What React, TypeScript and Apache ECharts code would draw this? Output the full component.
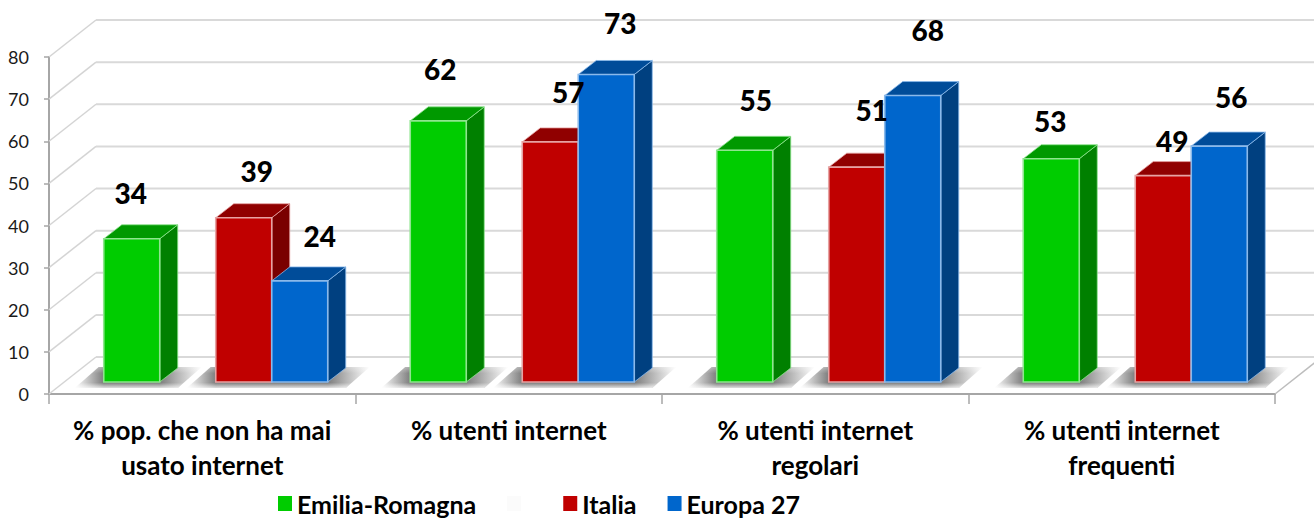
import React, { useEffect, useRef } from "react";
import * as echarts from "echarts";

const categories = [
  "% pop. che non ha mai\nusato internet",
  "% utenti internet",
  "% utenti internet\nregolari",
  "% utenti internet\nfrequenti",
];
const emiliaRomagna = [34, 62, 55, 53];
const italia = [39, 57, 51, 49];
const europa27 = [24, 73, 68, 56];
const yTicks = [0, 10, 20, 30, 40, 50, 60, 70, 80];

// layout only: label offsets relative to the top-front centre of each bar
const emiliaLabelOffset = [[-1, -46], [2, -52], [11, -50], [-1, -38]];
const italiaLabelOffset = [[13, -47], [18, -50], [15, -57], [9, -35]];
const europaLabelOffset = [[20, -45], [14, -51], [15, -66], [12, -49]];

const FONT = "Lato, Carlito, 'Open Sans', sans-serif";
const W = 1314, H = 518;
const WALL_DX = 47, WALL_DY = -37;
const BAR_DX = 13.5, BAR_DY = -12;
const BAR_DEPTH_X = 18, BAR_DEPTH_Y = -14;
const BAR_RATIO = 56 / 306.5;

function barFrame(api: any, slot: number) {
  const idx = api.value(0);
  const val = api.value(1);
  const top = api.coord([idx, val]);
  const base = api.coord([idx, 0]);
  const band = api.size([1, 0])[0];
  const w = band * BAR_RATIO;
  const x0 = top[0] + (slot - 2) * w + BAR_DX;
  return { x0, x1: x0 + w, yTop: top[1] + BAR_DY, yBase: base[1] + BAR_DY };
}

const bar3d = (slot: number, face: string, side: string, cap: string, edge: string) => (_p: any, api: any) => {
  const { x0, x1, yTop, yBase } = barFrame(api, slot);
  const dx = BAR_DEPTH_X, dy = BAR_DEPTH_Y;
  return {
    type: "group",
    children: [
      {
        type: "polygon",
        shape: { points: [[x1, yTop], [x1 + dx, yTop + dy], [x1 + dx, yBase + dy], [x1, yBase]] },
        style: { fill: side, stroke: edge, lineWidth: 0.8 },
      },
      {
        type: "polygon",
        shape: { points: [[x0, yTop], [x0 + dx, yTop + dy], [x1 + dx, yTop + dy], [x1, yTop]] },
        style: { fill: cap, stroke: edge, lineWidth: 0.8 },
      },
      {
        type: "rect",
        shape: { x: x0, y: yTop, width: x1 - x0, height: yBase - yTop },
        style: { fill: face, stroke: edge, lineWidth: 1.6 },
      },
    ],
  };
};

const shadow = (_p: any, api: any) => {
  const idx = api.value(0);
  const from = api.value(1);
  const to = api.value(2);
  const base = api.coord([idx, 0]);
  const w = api.size([1, 0])[0] * BAR_RATIO;
  const x0 = base[0] + (from - 2) * w + BAR_DX;
  const x1 = base[0] + (to - 2) * w + BAR_DX;
  const yBottom = base[1] - 6;
  const yTop = base[1] - 27;
  const stops = [
    { offset: 0, color: "rgba(125,125,125,0)" },
    { offset: 29 / (x1 - x0 + 71), color: "rgba(125,125,125,1)" },
    { offset: 1 - 42 / (x1 - x0 + 71), color: "rgba(125,125,125,1)" },
    { offset: 1, color: "rgba(125,125,125,0)" },
  ];
  return {
    type: "group",
    children: [
      {
        type: "polygon",
        shape: { points: [[x0 - 29, yBottom], [x0 - 5, yTop], [x1 + 42, yTop], [x1 + 18, yBottom]] },
        style: { fill: { type: "linear", x: 0, y: 0, x2: 1, y2: 0, colorStops: stops } },
      },
      {
        type: "polygon",
        shape: { points: [[x0 - 29, yBottom], [x0 - 5, yTop], [x1 + 42, yTop], [x1 + 18, yBottom]] },
        style: {
          fill: {
            type: "linear", x: 0, y: 0, x2: 0, y2: 1,
            colorStops: [
              { offset: 0, color: "rgba(255,255,255,0.35)" },
              { offset: 0.3, color: "rgba(255,255,255,0)" },
              { offset: 0.75, color: "rgba(255,255,255,0)" },
              { offset: 1, color: "rgba(255,255,255,0.75)" },
            ],
          },
        },
      },
    ],
  };
};

const walls = (p: any, api: any) => {
  const v = api.value(0);
  const rect = p.coordSys;
  const y = api.coord([0, v])[1];
  const x = rect.x;
  const children: any[] = [
    {
      type: "polyline",
      shape: { points: [[x, y], [x + WALL_DX, y + WALL_DY]] },
      style: { stroke: "#d4d4d4", lineWidth: 1.5, fill: "none" },
    },
    {
      type: "polyline",
      shape: { points: [[x + WALL_DX, y + WALL_DY], [W, y + WALL_DY]] },
      style: { stroke: "#d9d9d9", lineWidth: 2, fill: "none" },
    },
  ];
  if (v === 0) {
    const xr = rect.x + rect.width;
    children.push({
      type: "polyline",
      shape: { points: [[xr, y], [xr + WALL_DX, y + WALL_DY]] },
      style: { stroke: "#bdbdbd", lineWidth: 1.5, fill: "none" },
    });
  }
  return { type: "group", children };
};

const valueLabel = (slot: number, offsets: number[][]) => (_p: any, api: any) => {
  const idx = api.value(0);
  const { x0, x1, yTop } = barFrame(api, slot);
  const o = offsets[idx];
  return {
    type: "text",
    x: (x0 + x1) / 2 + o[0],
    y: yTop + o[1],
    style: {
      text: String(api.value(1)),
      fontFamily: FONT,
      fontSize: 28,
      fontWeight: 900,
      fill: "#000",
      align: "center",
      verticalAlign: "middle",
    },
  };
};

const pairs = (vals: number[]) => vals.map((v, i) => [i, v]);
const custom = (extra: any) => ({ type: "custom", coordinateSystem: "cartesian2d", clip: false, silent: true, ...extra });

export default function App() {
  const ref = useRef<HTMLDivElement>(null);
  useEffect(() => {
    document.body.style.margin = "0";
    const chart = echarts.init(ref.current!, null, { renderer: "svg" });
    const shadowData: number[][] = [];
    categories.forEach((_c, i) => {
      shadowData.push([i, 0, 1], [i, 2, 4]);
    });
    chart.setOption({
      animation: false,
      backgroundColor: "#fff",
      tooltip: { show: false },
      grid: { left: 49, right: W - 1275, top: 57, bottom: H - 394, containLabel: false },
      xAxis: {
        type: "category",
        data: categories,
        axisTick: { show: true, alignWithLabel: false, length: 10, lineStyle: { color: "#a6a6a6", width: 1.5 } },
        axisLine: { lineStyle: { color: "#a6a6a6", width: 2 } },
        axisLabel: {
          interval: 0,
          margin: 18,
          fontFamily: FONT,
          fontSize: 26,
          fontWeight: "bold",
          color: "#000",
          lineHeight: 35,
        },
      },
      yAxis: {
        type: "value",
        min: 0,
        max: 80,
        interval: 10,
        splitLine: { show: false },
        axisTick: { show: true, length: 5, lineStyle: { color: "#a6a6a6", width: 1.5 } },
        axisLine: { show: true, lineStyle: { color: "#a6a6a6", width: 2 } },
        axisLabel: { margin: 20, fontFamily: FONT, fontSize: 18, color: "#1a1a1a", padding: [3, 0, 0, 0] },
      },
      legend: {
        left: 278,
        top: 491,
        padding: 0,
        itemWidth: 14,
        itemHeight: 15,
        itemGap: 31,
        icon: "rect",
        selectedMode: false,
        data: ["Emilia-Romagna", "\u00a0", "Italia", "Europa 27"],
        textStyle: { fontFamily: FONT, fontSize: 25, fontWeight: "bold", color: "#000" },
      },
      series: [
        custom({ name: "walls", z: 1, data: yTicks.map((v) => [v]), encode: { y: 0 }, renderItem: walls }),
        custom({ name: "shadow", z: 2, data: shadowData, encode: { x: 0, y: 1 }, renderItem: shadow }),
        custom({
          name: "Emilia-Romagna", z: 3, itemStyle: { color: "#00CC00" }, data: pairs(emiliaRomagna),
          renderItem: bar3d(0, "#00CC00", "#008000", "#009900", "#8fe58f"),
        }),
        custom({
          name: "\u00a0", z: 3, itemStyle: { color: "#FBFBFB" }, data: [],
          renderItem: () => null,
        }),
        custom({
          name: "Italia", z: 3, itemStyle: { color: "#C00000" }, data: pairs(italia),
          renderItem: bar3d(2, "#C00000", "#7A0000", "#900000", "#e6a3a3"),
        }),
        custom({
          name: "Europa 27", z: 3, itemStyle: { color: "#0066CC" }, data: pairs(europa27),
          renderItem: bar3d(3, "#0066CC", "#004080", "#004C99", "#8ab9ea"),
        }),
        custom({ name: "labels-er", z: 5, data: pairs(emiliaRomagna), renderItem: valueLabel(0, emiliaLabelOffset) }),
        custom({ name: "labels-it", z: 5, data: pairs(italia), renderItem: valueLabel(2, italiaLabelOffset) }),
        custom({ name: "labels-eu", z: 5, data: pairs(europa27), renderItem: valueLabel(3, europaLabelOffset) }),
      ],
    });
    return () => chart.dispose();
  }, []);
  return <div ref={ref} style={{ position: "absolute", left: 0, top: 0, width: W, height: H }} />;
}
